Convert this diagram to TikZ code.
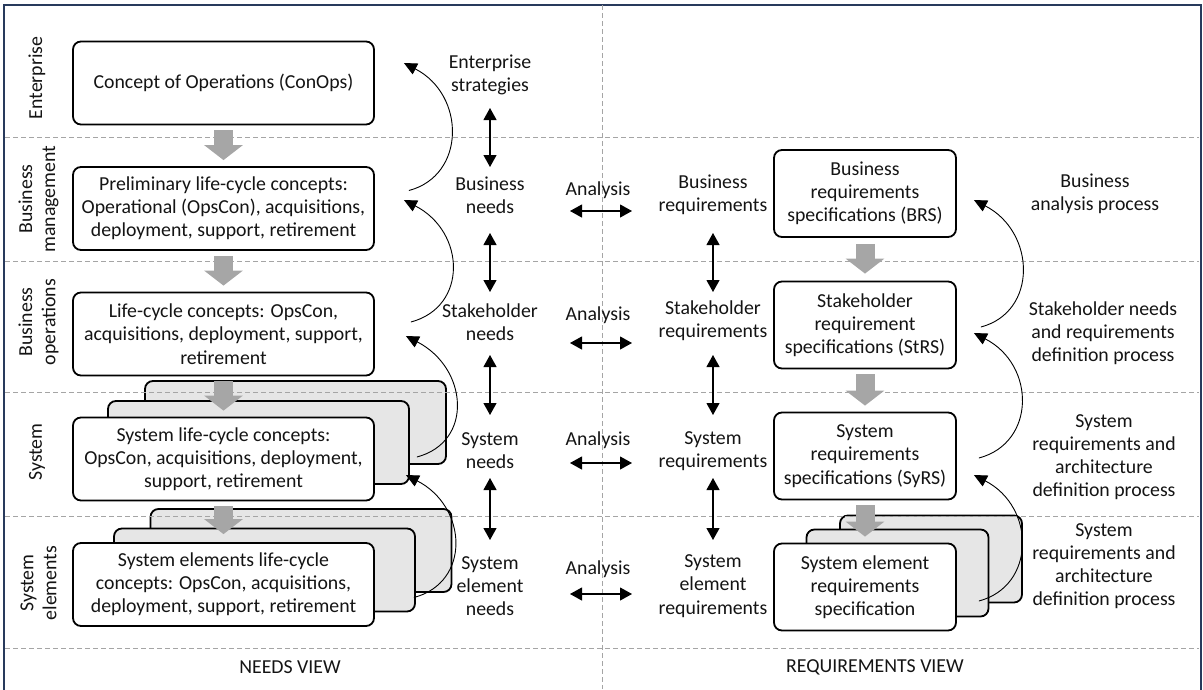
\documentclass[tikz,border=0pt]{standalone}
\usepackage{fontspec}
\setmainfont{Carlito}
\usetikzlibrary{arrows.meta,calc}

\definecolor{framec}{RGB}{40,58,92}
\definecolor{gridc}{RGB}{165,165,165}
\definecolor{flowc}{RGB}{166,166,166}
\definecolor{stackc}{RGB}{230,230,230}
\definecolor{inkc}{RGB}{20,20,20}

\begin{document}
\begin{tikzpicture}[x=1pt,y=-1pt,
  font=\fontsize{19.8}{23.2}\selectfont, text=inkc,
  box/.style={draw=black, line width=1.8pt, rounded corners=8pt, fill=white,
    align=center, minimum width=301pt, minimum height=83pt, inner sep=0pt},
  rbox/.style={box, minimum width=182pt, minimum height=87pt},
  backbox/.style={box, fill=stackc},
  rbackbox/.style={rbox, fill=stackc},
  lbl/.style={align=center, inner sep=0pt},
  sidelbl/.style={lbl, rotate=90},
  sep/.style={draw=gridc, dash pattern=on 5pt off 3pt, line width=0.9pt},
  link/.style={line width=1.1pt,
    {Triangle[length=12pt,width=13pt]}-{Triangle[length=12pt,width=13pt]}},
  loop/.style={line width=0.9pt, -{Triangle[length=13pt,width=12pt]}},
  flowarr/.style={draw=flowc, line width=19pt,
    -{Triangle[length=15pt,width=38pt]}, shorten <=5pt, shorten >=6pt},
]
\useasboundingbox (0,0) rectangle (1203,689);
\clip (0,0) rectangle (1203,689);

% outer frame
\draw[framec, line width=2pt] (4,5) rectangle (1200.5,720);

% stacked copies behind the system and element boxes
\node[backbox] (b4z) at (295.5,422.5) {};
\node[backbox] (b4y) at (258.5,442.5) {};
\node[backbox] (b5z) at (301,550.5) {};
\node[backbox] (b5y) at (264.5,570) {};
\node[rbackbox] (r4z) at (931,559) {};
\node[rbackbox] (r4y) at (897.5,573) {};

% lane separators
\foreach \yy in {137,261,392,516,648}
  \draw[sep] (5,\yy) -- (1199,\yy);
\draw[sep] (602,5) -- (602,689);

% lane titles
\node[sidelbl] (l1) at (37,78) {Enterprise};
\node[sidelbl] (l2) at (38.5,199) {Business\\management};
\node[sidelbl] (l3) at (38.5,322) {Business\\operations};
\node[sidelbl] (l4) at (37,452) {System};
\node[sidelbl] (l5) at (38.5,583) {System\\elements};

% needs view boxes
\node[box] (b1) at (223.5,83) {Concept of Operations (ConOps)};
\node[box] (b2) at (223.5,208.5) {Preliminary life-cycle concepts:\\Operational (OpsCon), acquisitions,\\deployment, support, retirement};
\node[box] (b3) at (223.5,334) {Life-cycle concepts: OpsCon,\\acquisitions, deployment, support,\\retirement};
\node[box] (b4) at (223.5,459) {System life-cycle concepts:\\OpsCon, acquisitions, deployment,\\support, retirement};
\node[box] (b5) at (223.5,584.5) {System elements life-cycle\\concepts: OpsCon, acquisitions,\\deployment, support, retirement};

% requirements view boxes
\node[rbox] (r1) at (865,193.5) {Business\\requirements\\specifications (BRS)};
\node[rbox] (r2) at (865,325) {Stakeholder\\requirement\\specifications (StRS)};
\node[rbox] (r3) at (865,456) {System\\requirements\\specifications (SyRS)};
\node[rbox] (r4) at (865,587) {System element\\requirements\\specification};

% refinement flow
\draw[flowarr] (b1) -- (b2);
\draw[flowarr] (b2) -- (b3);
\draw[flowarr] (b3) -- (b4);
\draw[flowarr, shorten >=8pt] (b4) -- (b5);
\draw[flowarr, shorten <=6pt, shorten >=7pt] (r1) -- (r2);
\draw[flowarr] (r2) -- (r3);
\draw[flowarr] (r3) -- (r4);

% needs column
\node[lbl] (n0) at (490,75) {Enterprise\\strategies};
\node[lbl] (n1) at (490,195) {Business\\needs};
\node[lbl] (n2) at (490,322) {Stakeholder\\needs};
\node[lbl] (n3) at (490,451) {System\\needs};
\node[lbl] (n4) at (490,586) {System\\element\\needs};

% requirements column
\node[lbl] (q1) at (713,195) {Business\\requirements};
\node[lbl] (q2) at (713,321) {Stakeholder\\requirements};
\node[lbl] (q3) at (713,451) {System\\requirements};
\node[lbl] (q4) at (713,586) {System\\element\\requirements};

% analysis labels
\node[lbl] (a1) at (598,190) {Analysis};
\node[lbl] (a2) at (598,315) {Analysis};
\node[lbl] (a3) at (598,440) {Analysis};
\node[lbl] (a4) at (598,569) {Analysis};

% process labels
\node[lbl] (p1) at (1095,194) {Business\\analysis process};
\node[lbl] (p2) at (1103,333) {Stakeholder needs\\and requirements\\definition process};
\node[lbl] (p3) at (1104,457) {System\\requirements and\\architecture\\definition process};
\node[lbl] (p4) at (1104,566) {System\\requirements and\\architecture\\definition process};

% view titles
\node[lbl] (v1) at (290,667) {NEEDS VIEW};
\node[lbl] (v2) at (875,667) {REQUIREMENTS VIEW};

% analysis links between needs and requirements
\draw[link] ($(n1.center)+(80,16)$) -- ($(q1.center)+(-81,16)$);
\draw[link] ($(n2.center)+(80,21)$) -- ($(q2.center)+(-81,22)$);
\draw[link] ($(n3.center)+(80,12)$) -- ($(q3.center)+(-81,12)$);
\draw[link] ($(n4.center)+(80,8)$) -- ($(q4.center)+(-81,8)$);

% vertical links
\draw[link] ($(n0.center)+(0,33)$) -- ($(n1.center)+(0,-28)$);
\draw[link] ($(n1.center)+(0,38)$) -- ($(n2.center)+(0,-30)$);
\draw[link] ($(n2.center)+(0,33)$) -- ($(n3.center)+(0,-36)$);
\draw[link] ($(n3.center)+(0,27)$) -- ($(n4.center)+(0,-46)$);
\draw[link] ($(q1.center)+(0,38)$) -- ($(q2.center)+(0,-29)$);
\draw[link] ($(q2.center)+(0,34)$) -- ($(q3.center)+(0,-36)$);
\draw[link] ($(q3.center)+(0,27)$) -- ($(q4.center)+(0,-46)$);

% feedback loops
\coordinate (s1) at ($(b2.east)+(34,-18)$);
\coordinate (t1) at ($(b1.east)+(29,-20)$);
\coordinate (s2) at ($(b3.east)+(36,-12)$);
\coordinate (t2) at ($(b2.east)+(29,-8.5)$);
\coordinate (s3) at ($(b4.east)+(42,-2)$);
\coordinate (t3) at ($(b3.east)+(31,2)$);
\coordinate (s4) at ($(b5.east)+(39,13)$);
\coordinate (t4) at ($(b4.east)+(31,16)$);
\coordinate (s5) at ($(r2.east)+(24,2)$);
\coordinate (t5) at ($(r1.east)+(17,6.5)$);
\coordinate (s6) at ($(r3.east)+(22,2)$);
\coordinate (t6) at ($(r2.east)+(17,8)$);
\coordinate (s7) at ($(r4.east)+(22,14)$);
\coordinate (t7) at ($(r3.east)+(17,19)$);
\foreach \i in {1,...,7}
  \draw[loop] (s\i) .. controls +(57,-15) and +(62,32) .. (t\i);
\end{tikzpicture}
\end{document}
